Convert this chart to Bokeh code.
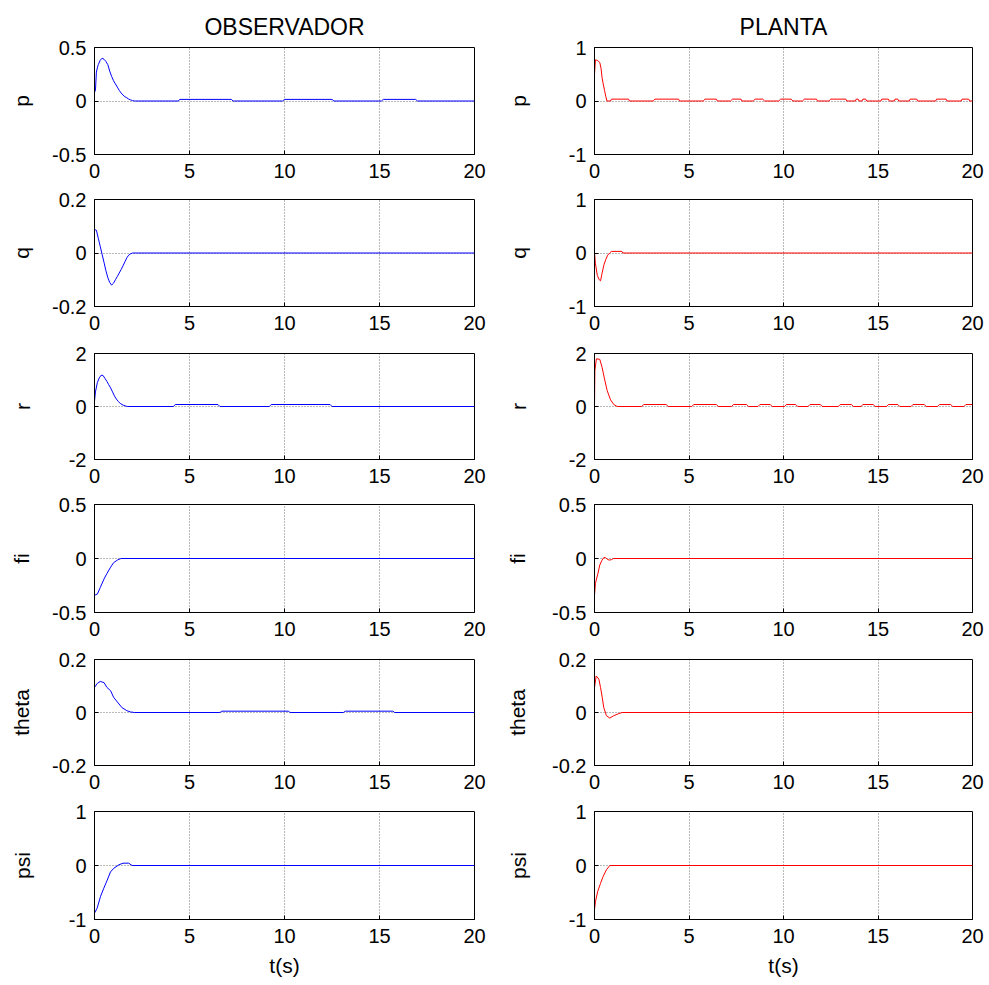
from bokeh.plotting import figure
from bokeh.layouts import gridplot
from bokeh.models import FixedTicker, Range1d
from bokeh.embed import file_html
from bokeh.resources import INLINE

# ---------------- data ----------------
x_ticks = [0, 5, 10, 15, 20]

# OBSERVADOR column
p_obs_t = [0.0, 0.05, 0.1, 0.15, 0.2, 0.3, 0.4, 0.5, 0.6, 0.7, 0.8, 0.9, 1.0, 1.1, 1.2, 1.3, 1.4, 1.5, 1.6, 1.7,
           1.8, 1.9, 2.0, 2.1, 4.4, 4.5, 7.2, 7.3, 9.9, 10.0, 12.5, 12.6, 15.1, 15.2, 16.9, 17.0, 20.0]
p_obs = [0.08, 0.1, 0.27, 0.31, 0.34, 0.38, 0.40, 0.39, 0.37, 0.34, 0.28, 0.23, 0.19, 0.16, 0.13, 0.10, 0.075,
         0.055, 0.04, 0.03, 0.018, 0.01, 0.004, 0.0, 0.0, 0.015, 0.015, 0.0, 0.0, 0.015, 0.015, 0.0, 0.0, 0.015,
         0.015, 0.0, 0.0]

q_obs_t = [0.0, 0.1, 0.2, 0.3, 0.4, 0.5, 0.6, 0.7, 0.8, 0.9, 1.0, 1.1, 1.2, 1.3, 1.4, 1.5, 1.6, 1.7, 1.8, 1.9,
           2.0, 2.2, 20.0]
q_obs = [0.088, 0.085, 0.055, 0.025, -0.005, -0.035, -0.066, -0.092, -0.11, -0.12, -0.113, -0.1, -0.088, -0.075,
         -0.062, -0.048, -0.033, -0.018, -0.008, -0.003, 0.0, 0.0, 0.0]

r_obs_t = [0.0, 0.05, 0.15, 0.25, 0.35, 0.45, 0.55, 0.65, 0.75, 0.85, 0.95, 1.05, 1.15, 1.25, 1.35, 1.45, 1.55,
           1.65, 1.75, 4.15, 4.25, 6.5, 6.6, 9.2, 9.3, 12.4, 12.5, 20.0]
r_obs = [0.2, 0.55, 0.9, 1.08, 1.18, 1.17, 1.06, 0.95, 0.82, 0.7, 0.55, 0.4, 0.28, 0.19, 0.12, 0.075, 0.04, 0.015,
         0.0, 0.0, 0.075, 0.075, 0.0, 0.0, 0.075, 0.075, 0.0, 0.0]

fi_obs_t = [0.0, 0.15, 0.3, 0.5, 0.65, 0.85, 1.0, 1.2, 1.35, 1.4, 20.0]
fi_obs = [-0.34, -0.33, -0.27, -0.19, -0.14, -0.08, -0.04, -0.015, -0.003, 0.0, 0.0]

theta_obs_t = [0.0, 0.05, 0.15, 0.3, 0.5, 0.65, 0.85, 1.0, 1.2, 1.45, 1.7, 1.9, 2.1, 6.6, 6.7, 10.2, 10.3, 13.1,
               13.2, 15.7, 15.8, 20.0]
theta_obs = [0.094, 0.1, 0.11, 0.117, 0.113, 0.095, 0.082, 0.058, 0.04, 0.018, 0.007, 0.002, 0.0, 0.0, 0.005,
             0.005, 0.0, 0.0, 0.005, 0.005, 0.0, 0.0]

psi_obs_t = [0.0, 0.14, 0.32, 0.49, 0.67, 0.84, 1.02, 1.28, 1.5, 1.8, 1.98, 20.0]
psi_obs = [-0.88, -0.79, -0.57, -0.42, -0.27, -0.12, -0.05, 0.012, 0.043, 0.043, 0.0, 0.0]

# PLANTA column
p_pl_t = [0.0, 0.05, 0.15, 0.28, 0.35, 0.4, 0.47, 0.53, 0.6, 0.66,
          0.85, 0.9, 1.8, 1.85, 3.1, 3.2, 4.45, 4.5, 5.75, 5.85, 6.45, 6.5, 7.2, 7.3, 7.75, 7.8,
          8.4, 8.5, 8.9, 9.0, 9.75, 9.85, 10.4, 10.5, 11.0, 11.1, 11.75, 11.8, 12.4, 12.5, 13.3, 13.35,
          13.8, 13.85, 13.95, 14.0, 14.15, 14.2, 14.35, 14.4, 15.15, 15.2, 15.55, 15.6, 15.85, 15.9, 16.05, 16.1,
          16.65, 16.7, 17.05, 17.1, 18.05, 18.1, 18.6, 18.65, 19.4, 19.45, 19.8, 19.85, 20.0]
p_pl = [0.5, 0.77, 0.76, 0.72, 0.6, 0.44, 0.3, 0.2, 0.08, 0.0,
        0.0, 0.035, 0.035, 0.0, 0.0, 0.035, 0.035, 0.0, 0.0, 0.035, 0.035, 0.0, 0.0, 0.035, 0.035, 0.0,
        0.0, 0.035, 0.035, 0.0, 0.0, 0.035, 0.035, 0.0, 0.0, 0.035, 0.035, 0.0, 0.0, 0.035, 0.035, 0.0,
        0.0, 0.035, 0.035, 0.0, 0.0, 0.035, 0.035, 0.0, 0.0, 0.035, 0.035, 0.0, 0.0, 0.035, 0.035, 0.0,
        0.0, 0.035, 0.035, 0.0, 0.0, 0.035, 0.035, 0.0, 0.0, 0.035, 0.035, 0.0, 0.0]

q_pl_t = [0.0, 0.05, 0.15, 0.25, 0.32, 0.4, 0.5, 0.6, 0.7, 0.8, 0.9, 1.45, 1.5, 20.0]
q_pl = [0.02, -0.2, -0.42, -0.5, -0.52, -0.38, -0.22, -0.12, -0.04, 0.0, 0.03, 0.03, 0.0, 0.0]

r_pl_t = [0.0, 0.02, 0.1, 0.28, 0.4, 0.53, 0.67, 0.85, 1.02, 1.2,
          2.5, 2.6, 3.8, 3.9, 5.15, 5.25, 6.45, 6.55, 7.25, 7.35, 8.05, 8.15, 8.65, 8.75, 9.3, 9.4,
          10.05, 10.15, 10.65, 10.75, 11.3, 11.4, 11.95, 12.05, 12.9, 13.0, 13.6, 13.7, 14.1, 14.2, 14.75, 14.85,
          15.45, 15.55, 16.05, 16.15, 16.75, 16.85, 17.45, 17.55, 18.15, 18.25, 18.85, 18.95, 19.55, 19.65, 20.0]
r_pl = [0.0, 1.35, 1.8, 1.78, 1.48, 1.04, 0.6, 0.25, 0.075, 0.0,
        0.0, 0.075, 0.075, 0.0, 0.0, 0.075, 0.075, 0.0, 0.0, 0.075, 0.075, 0.0, 0.0, 0.075, 0.075, 0.0,
        0.0, 0.075, 0.075, 0.0, 0.0, 0.075, 0.075, 0.0, 0.0, 0.075, 0.075, 0.0, 0.0, 0.075, 0.075, 0.0,
        0.0, 0.075, 0.075, 0.0, 0.0, 0.075, 0.075, 0.0, 0.0, 0.075, 0.075, 0.0, 0.0, 0.075, 0.075]

fi_pl_t = [0.0, 0.05, 0.18, 0.28, 0.4, 0.5, 0.6, 0.7, 0.8, 0.9, 1.0, 20.0]
fi_pl = [-0.34, -0.23, -0.14, -0.06, -0.015, 0.01, 0.005, -0.01, -0.015, -0.01, 0.0, 0.0]

theta_pl_t = [0.0, 0.09, 0.23, 0.32, 0.41, 0.49, 0.63, 0.81, 1.02, 1.29, 1.46, 20.0]
theta_pl = [0.094, 0.138, 0.126, 0.094, 0.057, 0.019, -0.012, -0.021, -0.012, -0.004, 0.0, 0.0]

psi_pl_t = [0.0, 0.05, 0.17, 0.32, 0.46, 0.63, 0.81, 20.0]
psi_pl = [-0.82, -0.67, -0.48, -0.33, -0.2, -0.08, 0.0, 0.0]

row_names = ["p", "q", "r", "fi", "theta", "psi"]
column_titles = ["OBSERVADOR", "PLANTA"]
obs_limits = [0.5, 0.2, 2, 0.5, 0.2, 1]
pl_limits = [1, 1, 2, 0.5, 0.2, 1]
tick_text = {0.5: ["-0.5", "0", "0.5"], 0.2: ["-0.2", "0", "0.2"], 1: ["-1", "0", "1"], 2: ["-2", "0", "2"]}

obs_series = [(p_obs_t, p_obs), (q_obs_t, q_obs), (r_obs_t, r_obs), (fi_obs_t, fi_obs),
              (theta_obs_t, theta_obs), (psi_obs_t, psi_obs)]
pl_series = [(p_pl_t, p_pl), (q_pl_t, q_pl), (r_pl_t, r_pl), (fi_pl_t, fi_pl),
             (theta_pl_t, theta_pl), (psi_pl_t, psi_pl)]

# ---------------- layout ----------------
FONT = "Liberation Sans"
TICK_FS = 20
tops = [47, 12, 12, 12, 12, 12]
frame_h = [107, 107, 106, 108, 106, 108]
bottoms = [33, 35, 33, 35, 34, 65]
LEFT_B = [94, 96]
FRAME_W = [380, 378]
RIGHT_B = [24, 15]
LABEL_DIST = [58, 62]


def text_width(s):
    w = {"-": 0.333, ".": 0.278}
    return sum(w.get(c, 0.556) for c in s) * TICK_FS


def make(col, i, ts, vs, color, lim, title=None):
    labels = tick_text[lim]
    fig = figure(width=LEFT_B[col] + FRAME_W[col] + RIGHT_B[col], height=tops[i] + frame_h[i] + bottoms[i],
                 x_range=Range1d(0, 20), y_range=Range1d(-lim, lim),
                 output_backend="svg", toolbar_location=None, tools="",
                 min_border_left=LEFT_B[col], min_border_right=RIGHT_B[col],
                 min_border_top=tops[i], min_border_bottom=bottoms[i])
    fig.background_fill_color = "white"
    fig.border_fill_color = "white"
    fig.outline_line_color = "black"
    fig.outline_line_width = 1
    fig.line(ts, vs, line_color=color, line_width=1)

    fig.xaxis.ticker = FixedTicker(ticks=x_ticks)
    fig.yaxis.ticker = FixedTicker(ticks=[-lim, 0, lim])
    fig.yaxis.major_label_overrides = {-lim: labels[0], 0: labels[1], lim: labels[2]}
    for ax in (fig.xaxis[0], fig.yaxis[0]):
        ax.major_label_text_font = FONT
        ax.major_label_text_font_size = f"{TICK_FS}px"
        ax.major_label_text_color = "black"
        ax.axis_line_color = "black"
        ax.major_tick_line_color = "black"
        ax.major_tick_in = 4
        ax.major_tick_out = 0
        ax.minor_tick_line_color = None
        ax.axis_label_text_font = FONT
        ax.axis_label_text_font_style = "normal"
        ax.axis_label_text_font_size = "21px"
        ax.axis_label_text_color = "black"
    fig.xaxis.major_label_standoff = 9
    fig.yaxis.major_label_standoff = 8
    fig.yaxis.axis_label = row_names[i]
    wmax = max(text_width(s) for s in labels)
    fig.yaxis.axis_label_standoff = int(round(LABEL_DIST[col] - 8 - wmax))
    if i == 5:
        fig.xaxis.axis_label = "t(s)"
        fig.xaxis.axis_label_standoff = 8
    for g in (fig.xgrid[0], fig.ygrid[0]):
        g.grid_line_color = "black"
        g.grid_line_alpha = 0.55
        g.grid_line_dash = "1 2"
        g.grid_line_width = 1
    if title:
        fig.title.text = title
        fig.title.align = "center"
        fig.title.vertical_align = "bottom"
        fig.title.text_font = FONT
        fig.title.text_font_size = "23px"
        fig.title.text_font_style = "normal"
        fig.title.text_color = "black"
        fig.title.standoff = 0
        fig.title.padding = 8
    return fig


rows = []
for i in range(6):
    lt, lv = obs_series[i]
    rt, rv = pl_series[i]
    f1 = make(0, i, lt, lv, "#0000ff", obs_limits[i], column_titles[0] if i == 0 else None)
    f2 = make(1, i, rt, rv, "#ff0000", pl_limits[i], column_titles[1] if i == 0 else None)
    rows.append([f1, f2])

p = gridplot(rows, toolbar_location=None)

open("out.html", "w").write(file_html(p, INLINE))
